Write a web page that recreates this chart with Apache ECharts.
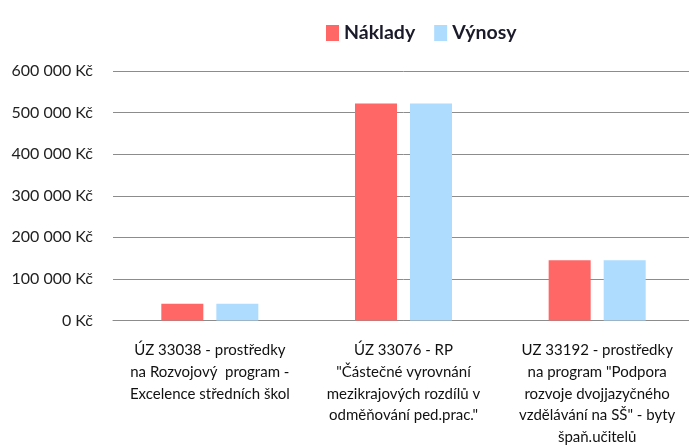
<!DOCTYPE html>
<html><head><meta charset="utf-8">
<script src="https://cdn.jsdelivr.net/npm/echarts@6/dist/echarts.min.js"></script>
<style>html,body{margin:0;padding:0;background:#fff;overflow:hidden}#c{width:700px;height:448px}</style>
</head><body><div id="c"></div>
<script>
const categories = [
  'ÚZ 33038 - prostředky\nna Rozvojový  program -\nExcelence středních škol',
  'ÚZ 33076 - RP\n"Částečné vyrovnání\nmezikrajových rozdílů v\nodměňování ped.prac."',
  'UZ 33192 - prostředky\nna program "Podpora\nrozvoje dvojjazyčného\nvzdělávání na SŠ" - byty\nšpaň.učitelů'
];
const naklady = [40000, 522000, 145000];
const vynosy = [40000, 522000, 145000];
const seriesNames = ['Náklady', 'Výnosy'];
const FONT = 'Lato';
const chart = echarts.init(document.getElementById('c'));
chart.setOption({
  animation: false,
  legend: {
    top: 18, left: 321, itemWidth: 13, itemHeight: 16, itemGap: 19,
    icon: 'rect',
    textStyle: { fontFamily: FONT, fontSize: 19.5, fontWeight: 'bold', color: '#1a1a2a' },
    data: seriesNames
  },
  grid: { left: 113, width: 581, top: 71, bottom: 126 },
  xAxis: {
    type: 'category', data: categories,
    axisTick: { show: false },
    axisLine: { lineStyle: { color: '#8c8c8c', width: 1 } },
    axisLabel: { interval: 0, fontFamily: FONT, fontSize: 15, color: '#111', lineHeight: 21.7, margin: 19, align: 'center' }
  },
  yAxis: {
    type: 'value', min: 0, max: 600000, interval: 100000,
    axisLine: { show: false }, axisTick: { show: false },
    splitLine: { lineStyle: { color: '#8c8c8c', width: 1 } },
    axisLabel: {
      fontFamily: FONT, fontSize: 16, color: '#222', margin: 20,
      formatter: v => String(v).replace(/\B(?=(\d{3})+(?!\d))/g, ' ') + ' Kč'
    }
  },
  series: [
    { name: seriesNames[0], type: 'bar', data: naklady, barWidth: 42, barGap: '31%', itemStyle: { color: '#ff6666' } },
    { name: seriesNames[1], type: 'bar', data: vynosy, barWidth: 42, itemStyle: { color: '#aedcff' } }
  ]
});
</script></body></html>
